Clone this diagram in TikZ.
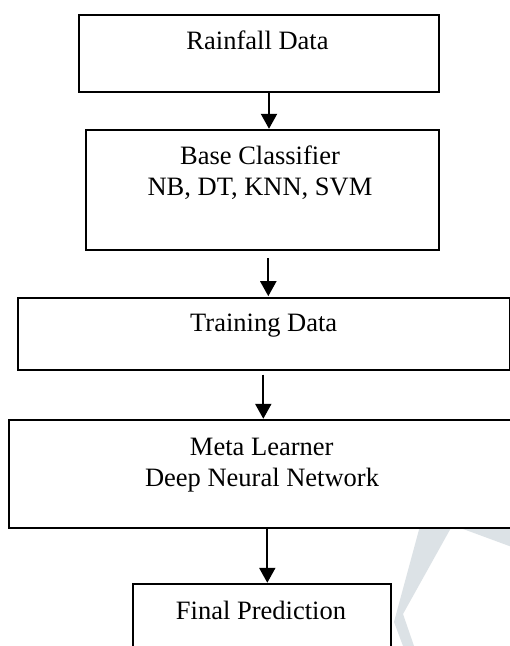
\documentclass[tikz,border=0pt]{standalone}
\usepackage{fontspec}
\setmainfont{Liberation Serif}
\usetikzlibrary{arrows.meta}
\definecolor{wmark}{HTML}{DCE2E6}
\tikzset{
  box/.style={draw=black, line width=2pt, fill=white, rectangle, inner sep=0pt, anchor=north west},
  txt/.style={inner sep=0pt, anchor=base, font=\fontsize{26.5}{31.5}\selectfont},
  arr/.style={line width=2.2pt, -{Triangle[width=16pt,length=15pt]}}
}
\begin{document}
\begin{tikzpicture}[x=1pt,y=-1pt]
\useasboundingbox (0,0) rectangle (510,646);
\clip (0,0) rectangle (510,646);
\fill[white] (0,0) rectangle (510,646);
% watermark
\fill[wmark] (420,526) -- (452,526) -- (403,614) -- (414,646) -- (403,646) -- (394,622) -- cycle;
\fill[wmark] (455,526) -- (512,526) -- (512,547) -- cycle;
% boxes
\node[box, minimum width=360pt, minimum height=77pt] (b1) at (78,14) {};
\node[box, minimum width=353pt, minimum height=120pt] (b2) at (85,129.3) {};
\node[box, minimum width=492pt, minimum height=72.6pt] (b3) at (17.3,296.7) {};
\node[box, minimum width=520pt, minimum height=108pt] (b4) at (8.3,419.3) {};
\node[box, minimum width=257.7pt, minimum height=100pt] (b5) at (132.3,583.3) {};
% texts
\node[txt] (t1) at (257.5,49.3) {Rainfall Data};
\node[txt] (t2a) at (260,164.3) {Base Classifier};
\node[txt] (t2b) at (260,195.3) {NB, DT, KNN, SVM};
\node[txt] (t3) at (263.7,331.5) {Training Data};
\node[txt] (t4a) at (261.7,455.5) {Meta Learner};
\node[txt] (t4b) at (262,486.7) {Deep Neural Network};
\node[txt] (t5) at (261,619.3) {Final Prediction};
% arrow x positions
\coordinate (x1) at (269,0);
\coordinate (x2) at (268.3,0);
\coordinate (x3) at (263.3,0);
\coordinate (x4) at (267.3,0);
% arrows
\draw[arr, shorten >=0.5pt] (b1.south -| x1) -- (b2.north -| x1);
\draw[arr, shorten <=6.7pt, shorten >=0.5pt] (b2.south -| x2) -- (b3.north -| x2);
\draw[arr, shorten <=3.4pt, shorten >=0.5pt] (b3.south -| x3) -- (b4.north -| x3);
\draw[arr, shorten >=0.5pt] (b4.south -| x4) -- (b5.north -| x4);
\end{tikzpicture}
\end{document}
